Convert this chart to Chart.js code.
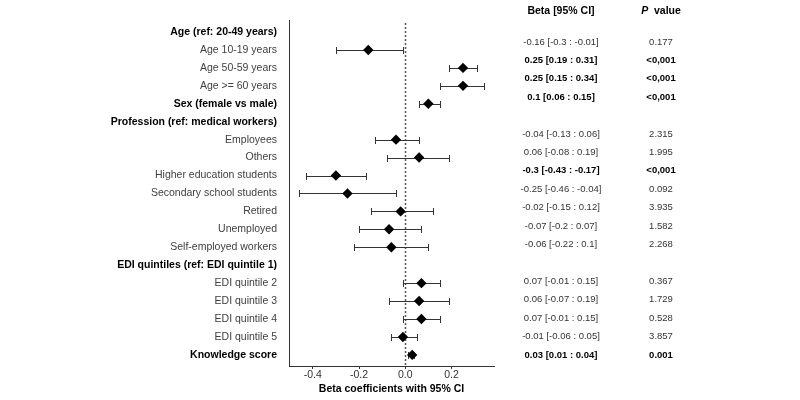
<!DOCTYPE html>
<html><head><meta charset="utf-8">
<script src="https://cdn.jsdelivr.net/npm/chart.js@4/dist/chart.umd.min.js"></script>
<style>html,body{margin:0;padding:0;background:#fff}#wrap{width:800px;height:400px}</style>
</head><body><div id="wrap"><canvas id="c" width="800" height="400"></canvas></div>
<script>
const categories = ['Age (ref: 20-49 years)','Age 10-19 years','Age 50-59 years','Age >= 60 years','Sex (female vs male)',
  'Profession (ref: medical workers)','Employees','Others','Higher education students','Secondary school students',
  'Retired','Unemployed','Self-employed workers','EDI quintiles (ref: EDI quintile 1)','EDI quintile 2','EDI quintile 3',
  'EDI quintile 4','EDI quintile 5','Knowledge score'];
const rowTypes = ['header','level','level','level','variable','header','level','level','level','level','level','level','level',
  'header','level','level','level','level','variable'];
const betas  = [null,-0.16,0.25,0.25,0.1,null,-0.04,0.06,-0.3,-0.25,-0.02,-0.07,-0.06,null,0.07,0.06,0.07,-0.01,0.03];
const lowers = [null,-0.3,0.19,0.15,0.06,null,-0.13,-0.08,-0.43,-0.46,-0.15,-0.2,-0.22,null,-0.01,-0.07,-0.01,-0.06,0.01];
const uppers = [null,-0.01,0.31,0.34,0.15,null,0.06,0.19,-0.17,-0.04,0.12,0.07,0.1,null,0.15,0.19,0.15,0.05,0.04];
const pValues = [null,'0.177','<0,001','<0,001','<0,001',null,'2.315','1.995','<0,001','0.092','3.935','1.582','2.268',
  null,'0.367','1.729','0.528','3.857','0.001'];
const xTicks = [-0.4,-0.2,0,0.2];
const xTitle = 'Beta coefficients with 95% CI';
const tableHeaders = ['Beta [95% CI]', 'P', 'value'];

const FONT = "'Liberation Sans', Arial, sans-serif";
const rows = categories.map((c, i) => i + 1);
const points = [];
betas.forEach((b, i) => { if (b !== null) points.push({x: b, y: rows[i], i}); });
const isSig = p => p !== null && (p.startsWith('<') || parseFloat(p) < 0.05);

const forestPlugin = {
  id: 'forest',
  beforeDatasetsDraw(chart) {
    const {ctx, chartArea, scales: {x, y}} = chart;
    ctx.save();
    // zero reference line
    const x0 = Math.round(x.getPixelForValue(0)) + 0.5;
    ctx.strokeStyle = '#555';
    ctx.lineWidth = 1.5;
    ctx.setLineDash([2, 2]);
    ctx.beginPath();
    ctx.moveTo(x0, chartArea.top + 3);
    ctx.lineTo(x0, chartArea.bottom);
    ctx.stroke();
    ctx.setLineDash([]);
    // error bars
    ctx.strokeStyle = '#333';
    ctx.lineWidth = 1;
    betas.forEach((b, i) => {
      if (b === null) return;
      const yy = Math.round(y.getPixelForValue(rows[i])) + 0.5;
      const xl = Math.round(x.getPixelForValue(lowers[i])) + 0.5;
      const xh = Math.round(x.getPixelForValue(uppers[i])) + 0.5;
      ctx.beginPath();
      ctx.moveTo(xl, yy); ctx.lineTo(xh, yy);
      ctx.moveTo(xl, yy - 3.5); ctx.lineTo(xl, yy + 3.5);
      ctx.moveTo(xh, yy - 3.5); ctx.lineTo(xh, yy + 3.5);
      ctx.stroke();
    });
    ctx.restore();
  },
  afterDraw(chart) {
    const {ctx, scales: {yTable}} = chart;
    const colBeta = 561, colP = 661;
    ctx.save();
    ctx.textBaseline = 'middle';
    ctx.textAlign = 'center';
    const hy = yTable.getPixelForValue(0.3);
    ctx.fillStyle = '#000';
    ctx.font = 'bold 10.5px ' + FONT;
    ctx.fillText(tableHeaders[0], colBeta, hy);
    // P value header: italic P + value
    const pW = (ctx.font = 'italic bold 10.5px ' + FONT, ctx.measureText(tableHeaders[1] + '  ').width);
    ctx.font = 'bold 10.5px ' + FONT;
    const vW = ctx.measureText(tableHeaders[2]).width;
    const startX = colP - (pW + vW) / 2;
    ctx.textAlign = 'left';
    ctx.font = 'italic bold 10.5px ' + FONT;
    ctx.fillText(tableHeaders[1], startX, hy);
    ctx.font = 'bold 10.5px ' + FONT;
    ctx.fillText(tableHeaders[2], startX + pW, hy);
    ctx.textAlign = 'center';
    betas.forEach((b, i) => {
      if (b === null) return;
      const yy = yTable.getPixelForValue(rows[i]);
      const sig = isSig(pValues[i]);
      ctx.font = (sig ? 'bold ' : '') + '9.5px ' + FONT;
      ctx.fillStyle = sig ? '#000' : '#333';
      ctx.fillText(`${b} [${lowers[i]} : ${uppers[i]}]`, colBeta, yy);
      ctx.fillText(pValues[i], colP, yy);
    });
    ctx.restore();
  }
};

new Chart(document.getElementById('c'), {
  type: 'scatter',
  data: {
    datasets: [{
      data: points,
      pointStyle: 'rectRot',
      pointRadius: 5.2,
      pointHoverRadius: 5.2,
      backgroundColor: '#000',
      borderColor: '#000',
      borderWidth: 0
    }]
  },
  plugins: [forestPlugin],
  options: {
    responsive: false,
    animation: false,
    devicePixelRatio: 1,
    layout: {padding: {top: 20, right: 306, bottom: 0, left: 0}},
    plugins: {legend: {display: false}, tooltip: {enabled: false}},
    scales: {
      x: {
        type: 'linear', position: 'bottom', min: -0.503, max: 0.384,
        afterBuildTicks: s => { s.ticks = xTicks.map(v => ({value: v})); },
        afterFit: s => { s.height = 34; },
        ticks: {
          callback: v => Number(v).toFixed(1),
          font: {family: FONT, size: 10.5}, color: '#333', padding: 0, maxRotation: 0, autoSkip: false
        },
        grid: {display: true, drawOnChartArea: false, drawTicks: true, tickLength: 3, color: '#333', lineWidth: 1},
        border: {display: true, color: '#333', width: 1},
        title: {display: true, text: xTitle, font: {family: FONT, size: 10.5, weight: 'bold'}, color: '#000',
          padding: {top: 0, bottom: 4.7}}
      },
      y: {
        type: 'linear', position: 'left', reverse: true, min: 0.33, max: 19.62,
        afterBuildTicks: s => { s.ticks = rows.map(v => ({value: v})); },
        afterFit: s => { s.width = 289; },
        ticks: {
          callback: v => categories[Math.round(v) - 1],
          font: ctx => ({family: FONT, size: 10.5,
            weight: rowTypes[ctx.index] === 'level' ? 'normal' : 'bold'}),
          color: ctx => rowTypes[ctx.index] === 'level' ? '#404040' : '#000',
          padding: 4, autoSkip: false
        },
        grid: {display: false},
        border: {display: true, color: '#333', width: 1}
      },
      yTable: {
        type: 'linear', position: 'right', display: false, reverse: true, min: 0.805, max: 19.6
      }
    }
  }
});
</script>
</body></html>
